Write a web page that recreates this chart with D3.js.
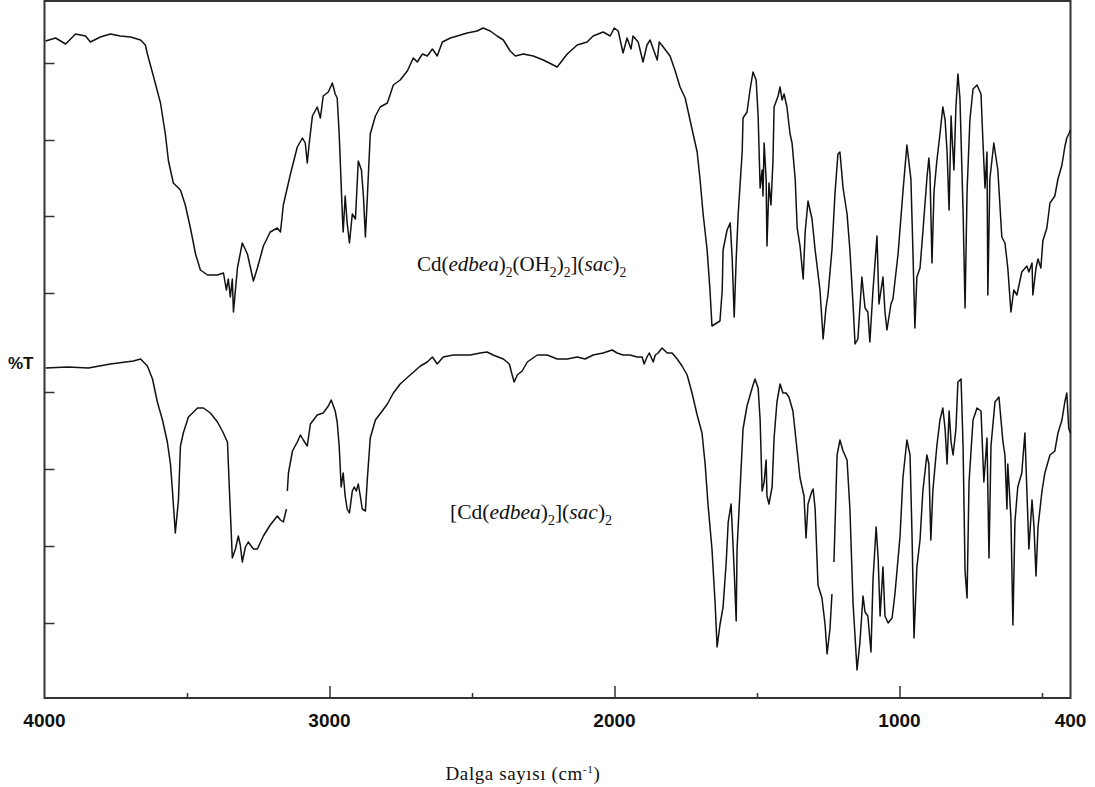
<!DOCTYPE html>
<html>
<head>
<meta charset="utf-8">
<script src="https://cdn.jsdelivr.net/npm/d3@7"></script>
<style>
  html, body { margin: 0; padding: 0; background: #fff; }
  svg { display: block; }
</style>
</head>
<body>
<svg id="chart" width="1095" height="787"></svg>
<script>
// ---------- DATA ----------
// x tick labels (wavenumber, cm-1)
const xMajorTicks = [4000, 3000, 2000, 1000, 400];
const xTickLabels = ["4000", "3000", "2000", "1000", "400"];
const xMinorTicks = [3500, 2500, 1500, 500];
// y ticks (%T, offset scale, unlabelled)
const yTicks = [7.5, 15.2, 22.9, 30.6, 40.5, 48.2, 55.8, 63.5];

// Upper spectrum: Cd(edbea)2(OH2)2](sac)2  [wavenumber, %T (offset)]
const upperSpectrum = [
 [3996,65.7],[3961,66.0],[3926,65.4],[3891,66.4],[3856,66.2],[3839,65.6],[3804,66.1],[3769,66.4],
 [3734,66.2],[3698,66.1],[3663,65.8],[3646,65.3],[3639,64.4],[3618,62.2],[3593,59.5],[3576,56.4],
 [3565,53.7],[3548,51.5],[3523,50.8],[3506,49.3],[3488,47.0],[3470,44.4],[3453,42.8],[3428,42.3],
 [3393,42.3],[3372,42.5],[3362,40.8],[3355,41.9],[3348,40.1],[3341,41.9],[3337,38.6],[3323,43.0],
 [3306,45.5],[3288,44.4],[3267,41.7],[3253,43.0],[3232,45.2],[3208,46.6],[3183,47.0],[3172,46.6],
 [3162,49.3],[3137,52.4],[3113,55.1],[3095,56.0],[3085,55.5],[3078,53.5],[3071,55.5],[3060,58.2],
 [3043,59.1],[3032,58.0],[3022,60.2],[3004,60.6],[2990,61.5],[2980,60.4],[2973,60.0],[2966,56.4],
 [2955,48.4],[2952,46.6],[2945,50.2],[2938,47.5],[2930,45.5],[2920,48.4],[2909,47.9],[2899,53.7],
 [2888,52.8],[2881,50.2],[2874,46.1],[2867,50.2],[2857,56.4],[2839,58.2],[2822,59.1],[2797,59.5],
 [2776,61.3],[2752,61.8],[2727,62.7],[2706,64.0],[2692,63.6],[2674,64.4],[2657,64.2],[2639,64.9],
 [2622,64.2],[2604,65.6],[2576,66.0],[2552,66.2],[2517,66.5],[2482,66.7],[2461,67.0],[2436,66.7],
 [2412,66.2],[2390,65.8],[2366,64.7],[2348,64.2],[2320,64.4],[2285,64.2],[2250,63.8],[2201,63.1],
 [2166,64.4],[2131,65.3],[2096,65.6],[2075,66.2],[2040,66.6],[2015,66.2],[2001,67.0],[1987,66.7],
 [1970,64.5],[1956,66.0],[1942,64.9],[1935,66.2],[1917,65.6],[1900,63.6],[1886,65.3],[1875,65.8],
 [1864,64.9],[1850,63.8],[1843,65.6],[1829,65.1],[1805,64.2],[1787,62.7],[1770,61.1],[1752,60.0],
 [1735,57.8],[1728,56.9],[1710,54.6],[1700,51.9],[1689,48.4],[1675,44.8],[1665,40.8],[1658,37.2],
 [1647,37.4],[1630,37.7],[1622,40.8],[1619,44.8],[1605,46.8],[1594,47.5],[1587,43.9],[1580,38.1],
 [1573,43.9],[1566,48.4],[1552,54.6],[1549,58.0],[1535,58.6],[1524,60.9],[1514,62.6],[1503,61.8],
 [1496,58.2],[1489,51.0],[1482,52.8],[1479,50.2],[1475,55.5],[1468,51.9],[1465,45.2],[1458,51.5],
 [1451,49.3],[1444,53.7],[1440,59.1],[1426,60.2],[1419,61.1],[1412,59.8],[1405,60.4],[1395,59.1],
 [1384,56.4],[1377,55.5],[1366,51.9],[1359,47.0],[1349,45.2],[1338,41.9],[1331,46.6],[1321,49.7],
 [1307,47.9],[1296,44.8],[1279,40.8],[1268,35.9],[1258,39.0],[1251,40.3],[1237,44.8],[1226,50.6],
 [1216,54.4],[1209,54.6],[1198,51.0],[1184,48.4],[1174,44.8],[1163,39.4],[1156,35.4],[1146,35.9],
 [1132,42.1],[1121,39.0],[1111,38.6],[1104,35.6],[1093,40.8],[1079,46.2],[1072,39.4],[1058,42.1],
 [1051,38.6],[1044,36.8],[1030,39.4],[1023,39.9],[1005,44.4],[988,50.6],[974,55.3],[960,51.9],
 [953,44.8],[946,37.0],[939,42.1],[928,43.0],[918,46.6],[904,51.9],[897,54.0],[893,52.4],
 [886,43.5],[879,50.6],[869,53.7],[858,56.4],[848,59.1],[840,57.8],[833,54.6],[826,48.8],
 [819,58.2],[816,56.4],[809,52.8],[802,59.1],[795,62.4],[788,60.0],[777,48.8],[770,39.0],
 [763,50.6],[753,57.8],[742,60.9],[728,61.3],[714,60.4],[707,55.5],[700,51.0],[693,54.6],
 [690,40.3],[683,51.9],[669,55.5],[655,52.8],[641,46.1],[630,45.5],[620,43.0],[609,38.6],
 [599,40.8],[588,40.3],[571,42.6],[553,43.2],[546,42.6],[535,43.5],[532,40.3],[521,43.0],
 [514,43.9],[504,43.0],[497,45.7],[483,47.0],[472,49.5],[455,50.2],[444,51.9],[430,53.3],
 [420,55.1],[413,56.0],[406,56.4],[400,56.8]
];

// Lower spectrum: [Cd(edbea)2](sac)2  (null = break in the trace)
const lowerSpectrum = [
 [3996,33.0],[3919,33.1],[3846,33.0],[3769,33.4],[3688,33.7],[3663,33.9],[3639,33.2],[3621,31.9],
 [3604,29.6],[3586,27.8],[3569,25.6],[3558,23.4],[3551,20.7],[3541,16.5],[3530,19.8],[3523,25.2],
 [3513,26.5],[3495,28.1],[3463,29.0],[3442,29.0],[3418,28.5],[3393,27.6],[3376,26.7],[3358,25.6],
 [3351,20.7],[3341,14.0],[3330,14.9],[3320,16.2],[3313,15.3],[3306,13.6],[3295,15.1],[3285,15.6],
 [3267,14.9],[3253,14.9],[3232,16.2],[3208,17.3],[3183,18.2],[3172,17.8],[3162,17.6],[3151,18.9],
 null,
 [3148,20.7],[3144,22.5],[3130,24.7],[3113,25.6],[3102,26.3],[3092,25.8],[3078,25.2],[3067,27.4],
 [3043,28.3],[3022,28.5],[3004,29.2],[2994,29.8],[2980,28.7],[2973,27.6],[2966,25.2],[2959,21.1],
 [2952,22.5],[2945,20.2],[2938,18.9],[2930,18.5],[2920,20.7],[2913,21.1],[2906,20.7],[2899,21.4],
 [2892,20.2],[2885,18.9],[2874,18.7],[2867,22.0],[2857,26.0],[2839,27.8],[2815,28.7],[2797,29.4],
 [2776,30.5],[2752,31.4],[2717,32.3],[2681,33.2],[2657,33.6],[2639,34.1],[2622,33.4],[2601,34.1],
 [2566,34.3],[2531,34.3],[2506,34.3],[2471,34.5],[2447,34.6],[2426,34.3],[2390,33.9],[2369,33.4],
 [2359,32.3],[2352,31.6],[2341,32.3],[2324,32.7],[2306,33.6],[2271,34.3],[2236,34.3],[2201,33.9],
 [2166,33.9],[2131,34.1],[2103,33.9],[2075,34.3],[2040,34.5],[2008,34.8],[1991,34.5],[1970,34.3],
 [1945,34.3],[1921,34.1],[1903,34.1],[1896,33.4],[1886,34.1],[1878,34.5],[1864,33.6],[1857,34.3],
 [1847,34.5],[1833,35.0],[1815,34.5],[1798,34.5],[1780,33.9],[1763,33.2],[1745,32.3],[1728,30.5],
 [1710,28.3],[1693,26.5],[1682,23.4],[1672,19.4],[1658,14.9],[1647,9.5],[1640,5.1],[1630,7.3],
 [1619,9.1],[1608,13.6],[1601,17.6],[1591,19.4],[1587,17.1],[1580,12.7],[1573,7.7],[1570,14.9],
 [1559,21.1],[1549,26.9],[1535,29.2],[1517,31.0],[1507,31.9],[1496,31.0],[1489,27.8],[1482,20.7],
 [1475,21.6],[1468,23.8],[1465,20.2],[1458,19.4],[1447,21.1],[1440,26.0],[1430,29.6],[1419,31.4],
 [1409,30.5],[1398,30.5],[1388,30.1],[1374,28.7],[1359,24.7],[1349,22.0],[1335,20.2],[1328,16.0],
 [1321,19.4],[1307,20.7],[1303,20.9],[1296,18.9],[1286,11.3],[1272,10.0],[1261,7.3],[1254,4.4],
 [1244,6.9],[1237,10.4],
 null,
 [1230,13.6],[1219,24.3],[1209,25.8],[1198,24.7],[1184,23.8],[1174,18.9],[1163,9.5],[1149,2.8],
 [1139,5.5],[1128,10.2],[1121,8.6],[1111,8.2],[1100,4.6],[1093,11.8],[1082,17.1],[1075,14.0],
 [1068,8.2],[1058,13.1],[1051,8.2],[1040,7.5],[1026,8.0],[1016,10.4],[998,16.2],[988,22.0],
 [974,25.8],[963,24.3],[956,16.2],[949,6.0],[939,13.1],[928,15.8],[918,20.7],[904,24.3],
 [897,23.4],[890,15.8],[883,20.7],[869,25.2],[858,27.8],[848,29.0],[840,26.9],[833,23.4],
 [826,28.7],[819,25.6],[812,24.3],[802,26.9],[795,31.6],[784,31.9],[777,25.2],[770,12.7],
 [763,10.0],[756,21.6],[742,27.8],[728,29.0],[714,28.7],[704,21.6],[693,26.0],[686,14.0],
 [679,25.2],[665,29.6],[651,30.1],[637,25.6],[630,24.3],[623,18.9],[620,23.4],[609,18.0],
 [602,7.3],[595,17.6],[585,21.1],[571,22.5],[560,26.5],[553,20.7],[546,14.9],[535,19.8],
 [528,17.1],[521,12.2],[514,17.1],[500,20.7],[490,22.5],[472,24.3],[455,24.7],[444,26.5],
 [430,27.8],[420,29.6],[413,30.5],[406,26.9],[400,26.5]
];

// ---------- CHART ----------
const svg = d3.select("#chart");
const W = 1095, H = 787;
svg.append("rect").attr("width", W).attr("height", H).attr("fill", "#fff");

const x = d3.scaleLinear().domain([4000, 400]).range([44.5, 1070.5]);
const y = d3.scaleLinear().domain([0, 69.7]).range([698, 1]);

const axisColor = "#333";

// frame
svg.append("rect")
  .attr("x", x(4000)).attr("y", y(69.7))
  .attr("width", x(400) - x(4000)).attr("height", y(0) - y(69.7))
  .attr("fill", "none").attr("stroke", axisColor).attr("stroke-width", 2);

// x ticks (pointing inward / up)
const xAxisMajor = d3.axisTop(x).tickValues([3000, 2000, 1000]).tickSize(12).tickFormat("");
const xAxisMinor = d3.axisTop(x).tickValues(xMinorTicks).tickSize(5).tickFormat("");
[xAxisMajor, xAxisMinor].forEach(ax => {
  const g = svg.append("g").attr("transform", `translate(0,${y(0)})`).call(ax);
  g.select(".domain").remove();
  g.selectAll("line").attr("stroke", axisColor).attr("stroke-width", 1.5);
});

// x tick labels
svg.append("g").selectAll("text")
  .data(xMajorTicks)
  .join("text")
  .attr("x", d => x(d))
  .attr("y", 727)
  .attr("text-anchor", "middle")
  .attr("font-family", "'Liberation Sans', Arial, sans-serif")
  .attr("font-weight", "bold")
  .attr("font-size", 19)
  .attr("fill", "#111")
  .text((d, i) => xTickLabels[i]);

// y ticks (pointing inward / right)
const yAxis = d3.axisRight(y).tickValues(yTicks).tickSize(10).tickFormat("");
const gy = svg.append("g").attr("transform", `translate(${x(4000)},0)`).call(yAxis);
gy.select(".domain").remove();
gy.selectAll("line").attr("stroke", axisColor).attr("stroke-width", 1.5);

// y label
svg.append("text")
  .attr("x", 8).attr("y", 369)
  .attr("font-family", "'Liberation Sans', Arial, sans-serif")
  .attr("font-weight", "bold")
  .attr("font-size", 17)
  .attr("fill", "#111")
  .text("%T");

// spectra
const line = d3.line()
  .defined(d => d !== null)
  .x(d => x(d[0]))
  .y(d => y(d[1]));

[upperSpectrum, lowerSpectrum].forEach(s => {
  svg.append("path")
    .datum(s)
    .attr("d", line)
    .attr("fill", "none")
    .attr("stroke", "#111")
    .attr("stroke-width", 1.5)
    .attr("stroke-linejoin", "round");
});

// formula labels
function richText(parts, px, py, size) {
  const t = svg.append("text")
    .attr("x", px).attr("y", py)
    .attr("font-family", "'Liberation Serif', 'Times New Roman', serif")
    .attr("font-size", size)
    .attr("fill", "#111");
  let shift = 0;
  parts.forEach(p => {
    const ts = t.append("tspan").text(p.t);
    let target = 0;
    if (p.sub) { ts.attr("font-size", size * 0.65); target = size * 0.28; }
    else if (p.sup) { ts.attr("font-size", size * 0.6); target = -size * 0.38; }
    if (p.i) ts.attr("font-style", "italic");
    ts.attr("dy", target - shift);
    shift = target;
  });
  return t;
}

richText([
  {t: "Cd("}, {t: "edbea", i: true}, {t: ")"}, {t: "2", sub: true},
  {t: "(OH"}, {t: "2", sub: true}, {t: ")"}, {t: "2", sub: true},
  {t: "]("}, {t: "sac", i: true}, {t: ")"}, {t: "2", sub: true}
], 417, 271, 21);

richText([
  {t: "[Cd("}, {t: "edbea", i: true}, {t: ")"}, {t: "2", sub: true},
  {t: "]("}, {t: "sac", i: true}, {t: ")"}, {t: "2", sub: true}
], 450, 519, 21.5);

// x axis title
const title = richText([
  {t: "Dalga sayısı (cm"}, {t: "-1", sup: true}, {t: ")"}
], 523, 780, 19);
title.attr("text-anchor", "middle").attr("letter-spacing", 0.6);
</script>
</body>
</html>
